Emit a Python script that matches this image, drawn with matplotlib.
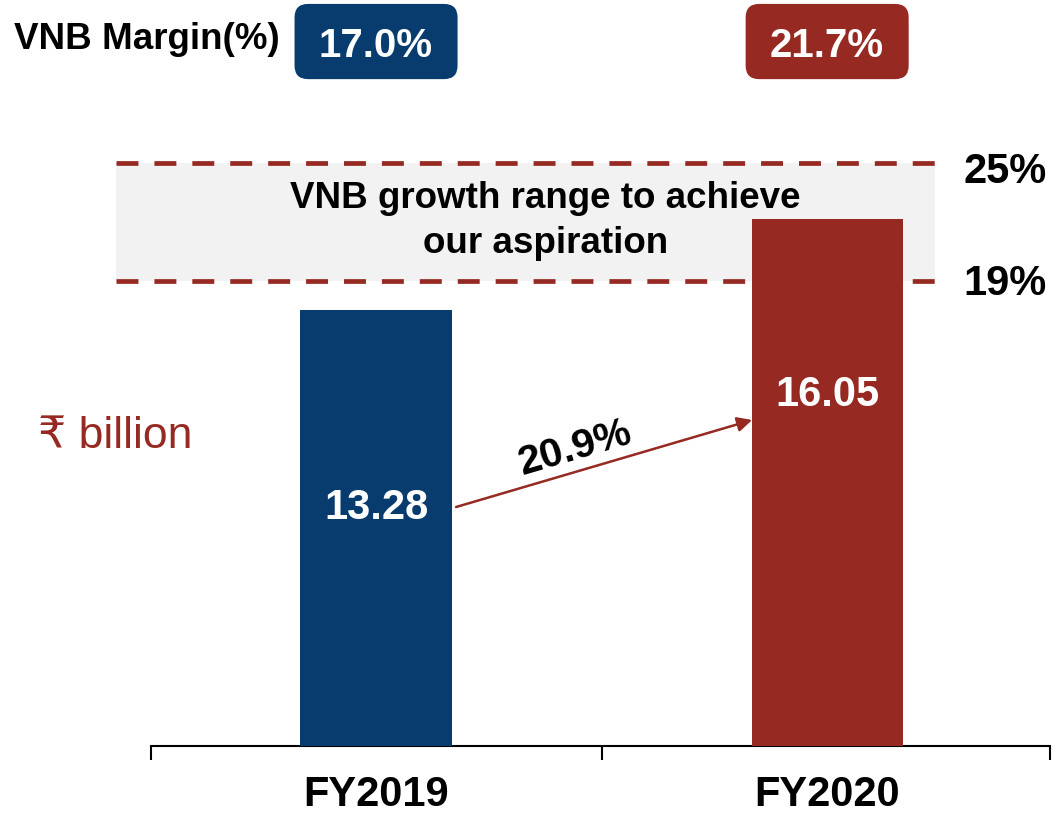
import matplotlib
matplotlib.use('Agg')
import matplotlib.pyplot as plt
from matplotlib.patches import FancyBboxPatch

plt.rcParams['font.family'] = ['Liberation Sans', 'DejaVu Sans']
plt.rcParams['lines.scale_dashes'] = False

# data
years = ['FY2019', 'FY2020']
vnb = [13.28, 16.05]                 # Rs billion
margin = ['17.0%', '21.7%']
growth = '20.9%'
range_labels = ['19%', '25%']

blue = '#083B6E'
red = '#962921'
bar_colors = [blue, red]

# chart is not to scale for the aspiration band, so these are display levels
band_lo, band_hi = 14.17, 17.76
label_y = [6.91, 10.35]

fig = plt.figure(figsize=(10.53, 8.17), dpi=100)
ax = fig.add_axes([150.5/1053, 71/817, 899.5/1053, 746/817])
ax.set_xlim(-0.5, 1.494)
ax.set_ylim(0, 746/32.85)

x = list(range(len(years)))

# aspiration band
band = ax.fill_between([-0.5765, 1.2395], band_lo, band_hi, color='#F2F2F2', zorder=0, lw=0)
band.set_clip_on(False)
for lvl in (band_lo, band_hi):
    ax.plot([-0.5765, 1.246], [lvl, lvl], color=red, lw=3.4, dashes=(15.8, 11.5),
            solid_capstyle='butt', dash_capstyle='butt', zorder=1, clip_on=False)
ax.text(0.3758, 16.38, 'VNB growth range to achieve', ha='center', va='baseline',
        fontsize=26.5, fontweight='bold', zorder=2)
ax.text(0.3758, 15.01, 'our aspiration', ha='center', va='baseline',
        fontsize=26.5, fontweight='bold', zorder=2)
ax.text(1.3016, 13.73, range_labels[0], ha='left', va='baseline', fontsize=30,
        fontweight='bold', clip_on=False)
ax.text(1.3016, 17.14, range_labels[1], ha='left', va='baseline', fontsize=30,
        fontweight='bold', clip_on=False)

# bars
ax.bar(x, vnb, width=0.335, color=bar_colors, zorder=3)
for xi, v, ly in zip(x, vnb, label_y):
    ax.text(xi, ly, f'{v:.2f}', ha='center', va='baseline', color='white',
            fontsize=30, fontweight='bold', zorder=4)

# growth arrow
ax.annotate('', xy=(0.8337, 9.924), xytext=(0.1774, 7.275),
            arrowprops=dict(arrowstyle='-|>', color=red, lw=1.8, mutation_scale=22,
                            shrinkA=0, shrinkB=0), zorder=4)
ax.text(0.4412, 9.07, growth, rotation=16.4, rotation_mode='anchor', ha='center',
        va='center', fontsize=29.5, fontweight='bold', zorder=4)

# margin boxes
ax.text(-0.8027, 21.22, 'VNB Margin(%)', ha='left', va='baseline', fontsize=26.5,
        fontweight='bold', clip_on=False)
for xi, m, c in zip(x, margin, bar_colors):
    box = FancyBboxPatch((xi - 0.1807, 20.30), 0.3614, 2.29,
                         boxstyle='round,pad=0,rounding_size=0.03',
                         mutation_aspect=451/32.85, fc=c, ec='none', clip_on=False)
    ax.add_patch(box)
    ax.text(xi, 20.97, m, ha='center', va='baseline', color='white', fontsize=29,
            fontweight='bold', clip_on=False)

ax.text(-0.7494, 9.07, '\u20b9 billion', ha='left', va='baseline', color=red,
        fontsize=32, clip_on=False)

# axis
for s in ['top', 'right', 'left']:
    ax.spines[s].set_visible(False)
ax.spines['bottom'].set_linewidth(1.5)
ax.set_yticks([])
ax.set_xticks(x, years, fontsize=30, fontweight='bold')
ax.set_xticks([-0.5, 0.5, 1.494], minor=True)
ax.tick_params(axis='x', which='major', length=0, pad=21)
ax.tick_params(axis='x', which='minor', length=10, width=1.5)

fig.savefig('out.png', dpi=100)
